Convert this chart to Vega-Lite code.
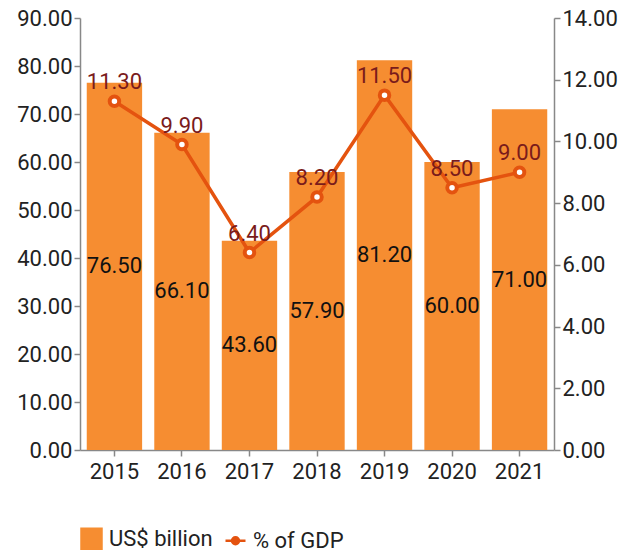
{
  "$schema": "https://vega.github.io/schema/vega-lite/v6.json",
  "width": 474,
  "height": 432,
  "padding": {"left": 16, "top": 7, "right": 5, "bottom": 5},
  "background": "white",
  "config": {
    "font": "Roboto",
    "view": {"stroke": null},
    "axis": {
      "labelFont": "Roboto",
      "labelFontSize": 22,
      "labelColor": "#222222",
      "domainColor": "#888888",
      "tickColor": "#888888",
      "domainWidth": 1.5,
      "tickWidth": 1.5,
      "grid": false,
      "title": null
    }
  },
  "data": {
    "values": [
      {"year": "2015", "usd": 76.5, "gdp": 11.3},
      {"year": "2016", "usd": 66.1, "gdp": 9.9},
      {"year": "2017", "usd": 43.6, "gdp": 6.4},
      {"year": "2018", "usd": 57.9, "gdp": 8.2},
      {"year": "2019", "usd": 81.2, "gdp": 11.5},
      {"year": "2020", "usd": 60.0, "gdp": 8.5},
      {"year": "2021", "usd": 71.0, "gdp": 9.0}
    ]
  },
  "encoding": {
    "x": {
      "field": "year",
      "type": "ordinal",
      "scale": {"paddingInner": 0.18, "paddingOuter": 0.1},
      "axis": {"labelAngle": 0, "labelPadding": 5, "tickSize": 6}
    }
  },
  "layer": [
    {
      "mark": {"type": "bar"},
      "encoding": {
        "y": {
          "field": "usd",
          "type": "quantitative",
          "scale": {"domain": [0, 90]},
          "axis": {"orient": "left", "format": ".2f", "values": [0,10,20,30,40,50,60,70,80,90], "tickSize": 6, "labelPadding": 2}
        },
        "color": {
          "datum": "US$ billion",
          "type": "nominal",
          "scale": {"domain": ["US$ billion", "% of GDP"], "range": ["#F68D31", "#E4530F"]},
          "legend": {
            "title": null,
            "orient": "bottom",
            "direction": "horizontal",
            "offset": 45,
            "labelFont": "Roboto",
            "labelFontSize": 22,
            "labelColor": "#222222",
            "symbolSize": 400,
            "columnPadding": 7,
            "labelOffset": 6,
            "encode": {
              "symbols": {
                "update": {
                  "shape": {"signal": "datum.label === 'US$ billion' ? 'square' : 'M-1,0H-0.35M0.35,0H1M-0.35,0A0.35,0.35,0,1,1,0.35,0A0.35,0.35,0,1,1,-0.35,0Z'"},
                  "fill": {"signal": "datum.label === 'US$ billion' ? '#F68D31' : 'white'"},
                  "stroke": {"signal": "datum.label === 'US$ billion' ? null : '#E4530F'"},
                  "strokeWidth": {"value": 2.5},
                  "opacity": {"value": 1},
                  "fillOpacity": {"value": 1}
                }
              }
            }
          }
        }
      }
    },
    {
      "mark": {"type": "text", "fontSize": 22, "color": "#111111", "baseline": "middle", "font": "Roboto"},
      "encoding": {
        "y": {"field": "usd", "type": "quantitative", "scale": {"domain": [0, 180]}, "axis": null},
        "text": {"field": "usd", "type": "quantitative", "format": ".2f"}
      }
    },
    {
      "mark": {"type": "line", "strokeWidth": 3.5},
      "encoding": {
        "y": {
          "field": "gdp",
          "type": "quantitative",
          "scale": {"domain": [0, 14]},
          "axis": {"orient": "right", "format": ".2f", "values": [0,2,4,6,8,10,12,14], "tickSize": 6, "labelPadding": 2}
        },
        "color": {"datum": "% of GDP", "type": "nominal"}
      }
    },
    {
      "mark": {"type": "point", "shape": "circle", "filled": false, "fill": "white", "fillOpacity": 1, "strokeWidth": 4, "size": 90, "opacity": 1},
      "encoding": {
        "y": {"field": "gdp", "type": "quantitative", "scale": {"domain": [0, 14]}, "axis": null},
        "color": {"datum": "% of GDP", "type": "nominal"}
      }
    },
    {
      "mark": {"type": "text", "fontSize": 22, "color": "#7A1B1B", "baseline": "bottom", "dy": -7, "font": "Roboto"},
      "encoding": {
        "y": {"field": "gdp", "type": "quantitative", "scale": {"domain": [0, 14]}, "axis": null},
        "text": {"field": "gdp", "type": "quantitative", "format": ".2f"}
      }
    }
  ],
  "resolve": {"scale": {"y": "independent"}}
}
